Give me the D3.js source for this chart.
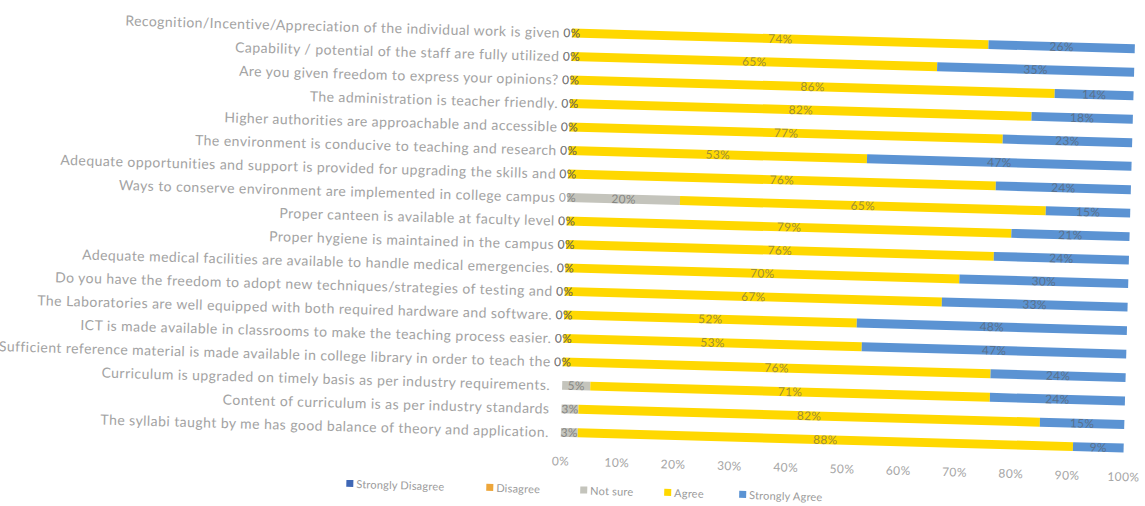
<!DOCTYPE html>
<html>
<head>
<meta charset="utf-8">
<script src="https://cdn.jsdelivr.net/npm/d3@7"></script>
<style>
  body { margin: 0; background: #fff; }
  svg { display: block; font-family: Lato, "Liberation Sans", sans-serif; }
</style>
</head>
<body>
<script>
// survey statements, top to bottom
var questions = [
  "Recognition/Incentive/Appreciation of the individual work is given",
  "Capability / potential of the staff are fully utilized",
  "Are you given freedom to express your opinions?",
  "The administration is teacher friendly.",
  "Higher authorities are approachable and accessible",
  "The environment is conducive to teaching and research",
  "Adequate opportunities and support is provided for upgrading the skills and",
  "Ways to conserve environment are implemented in college campus",
  "Proper canteen is available at faculty level",
  "Proper hygiene is maintained in the campus",
  "Adequate medical facilities are available to handle medical emergencies.",
  "Do you have the freedom to adopt new techniques/strategies of testing and",
  "The Laboratories are well equipped with both required hardware and software.",
  "ICT is made available in classrooms to make the teaching process easier.",
  "Sufficient reference material is made available in college library in order to teach the",
  "Curriculum is upgraded on timely basis as per industry requirements.",
  "Content of curriculum is as per industry standards",
  "The syllabi taught by me has good balance of theory and application."
];

var seriesNames = ["Strongly Disagree", "Disagree", "Not sure", "Agree", "Strongly Agree"];

// percentages (null = empty cell, no label shown)
var stronglyDisagree = [null, null, null, null, null, null, null, null, null, null, null, null, null, null, null, null, null, null];
var disagree         = [0, 0, 0, 0, 0, 0, 0, 0, 0, 0, 0, 0, 0, 0, 0, null, null, null];
var notSure          = [0, 0, 0, 0, 0, 0, 0, 20, 0, 0, 0, 0, 0, 0, 0, 5, 3, 3];
var agree            = [74, 65, 86, 82, 77, 53, 76, 65, 79, 76, 70, 67, 52, 53, 76, 71, 82, 88];
var stronglyAgree    = [26, 35, 14, 18, 23, 47, 24, 15, 21, 24, 30, 33, 48, 47, 24, 24, 15, 9];

var xTicks = [0, 10, 20, 30, 40, 50, 60, 70, 80, 90, 100];

var colors = ["#3f67b5", "#eda63a", "#c4c4bc", "#ffd800", "#5b93d3"];

var width = 1145, height = 506;
var x0 = 572, plotW = 563;

var svg = d3.select("body").append("svg")
  .attr("width", width)
  .attr("height", height);

// the scanned page is slightly tilted, so the whole chart is turned a bit
var chart = svg.append("g")
  .attr("transform", "rotate(1.6," + x0 + ",33)");

var x = d3.scaleLinear().domain([0, 100]).range([x0, x0 + plotW]);

var y = d3.scaleBand()
  .domain(questions)
  .range([21.25, 444.25])
  .paddingInner(0.62)
  .paddingOuter(0.31);

var table = questions.map(function(q, i) {
  return {
    q: q,
    vals: [stronglyDisagree[i], disagree[i], notSure[i], agree[i], stronglyAgree[i]]
  };
});

var series = d3.stack()
  .keys([0, 1, 2, 3, 4])
  .value(function(d, k) { return d.vals[k] || 0; })(table);

// bars
var layers = chart.selectAll("g.layer")
  .data(series)
  .enter().append("g")
  .attr("class", "layer")
  .attr("fill", function(d) { return colors[d.key]; });

layers.selectAll("rect")
  .data(function(d) { return d; })
  .enter().append("rect")
  .attr("x", function(d) { return x(d[0]); })
  .attr("y", function(d) { return y(d.data.q); })
  .attr("width", function(d) { return x(d[1]) - x(d[0]); })
  .attr("height", y.bandwidth());

// data labels
series.forEach(function(s) {
  chart.append("g")
    .selectAll("text")
    .data(s.filter(function(d) { return d.data.vals[s.key] !== null; }))
    .enter().append("text")
    .attr("x", function(d) { return x((d[0] + d[1]) / 2); })
    .attr("y", function(d) { return y(d.data.q) + y.bandwidth() / 2; })
    .attr("dy", "0.36em")
    .attr("text-anchor", "middle")
    .attr("font-size", 12)
    .attr("letter-spacing", 0.3)
    .attr("fill", "#5a5a5a")
    .attr("fill-opacity", 0.6)
    .text(function(d) { return d.data.vals[s.key] + "%"; });
});

// category labels
chart.append("g")
  .selectAll("text")
  .data(questions)
  .enter().append("text")
  .attr("x", x0 - 12)
  .attr("y", function(d) { return y(d) + y.bandwidth() / 2; })
  .attr("dy", "0.36em")
  .attr("text-anchor", "end")
  .attr("font-size", 14)
  .attr("letter-spacing", 0.45)
  .attr("fill", "#a3a3a3")
  .text(function(d) { return d; });

// x axis, labels only
var axis = chart.append("g")
  .attr("transform", "translate(0,454)")
  .call(d3.axisBottom(x).tickValues(xTicks).tickSize(0).tickPadding(3)
    .tickFormat(function(d) { return d + "%"; }));
axis.select(".domain").remove();
axis.selectAll("text")
  .attr("font-family", "Lato, sans-serif")
  .attr("font-size", 12)
  .attr("letter-spacing", 0.4)
  .attr("fill", "#a6a6a6");

// legend
var legendX = [359, 499, 593, 677, 752];
var legend = chart.append("g").attr("transform", "translate(0,490)");
var items = legend.selectAll("g")
  .data(seriesNames)
  .enter().append("g")
  .attr("transform", function(d, i) { return "translate(" + legendX[i] + ",0)"; });
items.append("rect")
  .attr("x", 0).attr("y", -4)
  .attr("width", 7).attr("height", 7)
  .attr("fill", function(d, i) { return colors[i]; });
items.append("text")
  .attr("x", 10)
  .attr("dy", "0.36em")
  .attr("font-size", 11)
  .attr("letter-spacing", 0.2)
  .attr("fill", "#9a9a9a")
  .text(function(d) { return d; });
</script>
</body>
</html>
